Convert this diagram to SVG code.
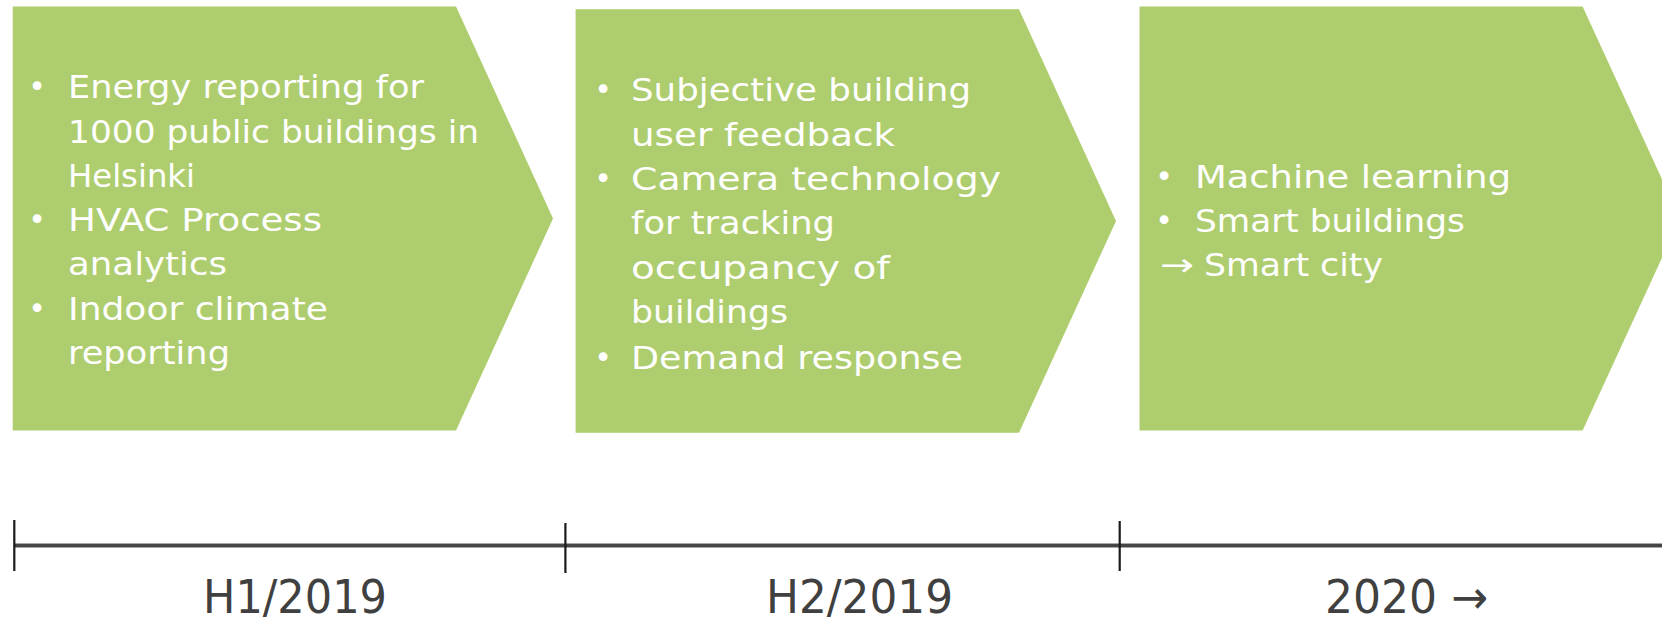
<svg xmlns="http://www.w3.org/2000/svg" width="1662" height="623" viewBox="0 0 1662 623">
<style>
.chev{fill:#AECD6E;}
.t{font-family:"DejaVu Sans","Liberation Sans",sans-serif;font-size:32px;fill:#FFFFFF;}
.b{font-family:"DejaVu Sans","Liberation Sans",sans-serif;font-size:30px;fill:#FFFFFF;text-anchor:middle;}
.lbl{font-family:"Liberation Sans Narrow","DejaVu Sans Condensed","Liberation Sans",sans-serif;font-size:46px;fill:#404040;}
.tick{stroke:#1A1A1A;stroke-width:2.2;}
</style>
<rect width="1662" height="623" fill="#FFFFFF"/>
<g id="phase1">
<polygon class="chev" points="12.7,6.4 456,6.4 553,218.5 456,430.5 12.7,430.5"/>
<text class="b" x="37" y="97">•</text>
<text class="t" x="68" y="98" textLength="356" lengthAdjust="spacingAndGlyphs">Energy reporting for</text>
<text class="t" x="68" y="143" textLength="411" lengthAdjust="spacingAndGlyphs">1000 public buildings in</text>
<text class="t" x="68" y="187" textLength="127" lengthAdjust="spacingAndGlyphs">Helsinki</text>
<text class="b" x="37" y="230">•</text>
<text class="t" x="68" y="231" textLength="254" lengthAdjust="spacingAndGlyphs">HVAC Process</text>
<text class="t" x="68" y="275" textLength="159" lengthAdjust="spacingAndGlyphs">analytics</text>
<text class="b" x="37" y="319">•</text>
<text class="t" x="68" y="320" textLength="260" lengthAdjust="spacingAndGlyphs">Indoor climate</text>
<text class="t" x="68" y="364" textLength="162" lengthAdjust="spacingAndGlyphs">reporting</text>
</g>
<g id="phase2">
<polygon class="chev" points="575.6,9.3 1019,9.3 1116,221 1019,432.7 575.6,432.7"/>
<text class="b" x="603" y="100">•</text>
<text class="t" x="631" y="101" textLength="340" lengthAdjust="spacingAndGlyphs">Subjective building</text>
<text class="t" x="631" y="146" textLength="264" lengthAdjust="spacingAndGlyphs">user feedback</text>
<text class="b" x="603" y="189">•</text>
<text class="t" x="631" y="190" textLength="370" lengthAdjust="spacingAndGlyphs">Camera technology</text>
<text class="t" x="631" y="234" textLength="204" lengthAdjust="spacingAndGlyphs">for tracking</text>
<text class="t" x="631" y="279" textLength="259" lengthAdjust="spacingAndGlyphs">occupancy of</text>
<text class="t" x="631" y="323" textLength="157" lengthAdjust="spacingAndGlyphs">buildings</text>
<text class="b" x="603" y="368">•</text>
<text class="t" x="631" y="369" textLength="332" lengthAdjust="spacingAndGlyphs">Demand response</text>
</g>
<g id="phase3">
<polygon class="chev" points="1139.5,6.4 1582.6,6.4 1680,218.5 1582.6,430.5 1139.5,430.5"/>
<text class="b" x="1164" y="187">•</text>
<text class="t" x="1195" y="188" textLength="316" lengthAdjust="spacingAndGlyphs">Machine learning</text>
<text class="b" x="1164" y="231">•</text>
<text class="t" x="1195" y="232" textLength="270" lengthAdjust="spacingAndGlyphs">Smart buildings</text>
<text class="t" x="1160" y="276" textLength="34" lengthAdjust="spacingAndGlyphs">→</text>
<text class="t" x="1204" y="276" textLength="179" lengthAdjust="spacingAndGlyphs">Smart city</text>
</g>
<g id="timeline">
<line x1="14" y1="545.5" x2="1662" y2="545.5" stroke="#A8A8A8" stroke-width="5"/>
<line x1="14" y1="545.5" x2="1662" y2="545.5" stroke="#454545" stroke-width="3"/>
<line class="tick" x1="14.3" y1="520" x2="14.3" y2="571"/>
<line class="tick" x1="565.4" y1="523" x2="565.4" y2="573"/>
<line class="tick" x1="1119.7" y1="521" x2="1119.7" y2="571"/>
</g>
<g id="labels">
<text class="lbl" x="203" y="613" textLength="184" lengthAdjust="spacingAndGlyphs">H1/2019</text>
<text class="lbl" x="766" y="613" textLength="187" lengthAdjust="spacingAndGlyphs">H2/2019</text>
<text class="lbl" x="1325" y="613" textLength="163" lengthAdjust="spacingAndGlyphs">2020 →</text>
</g>
</svg>
